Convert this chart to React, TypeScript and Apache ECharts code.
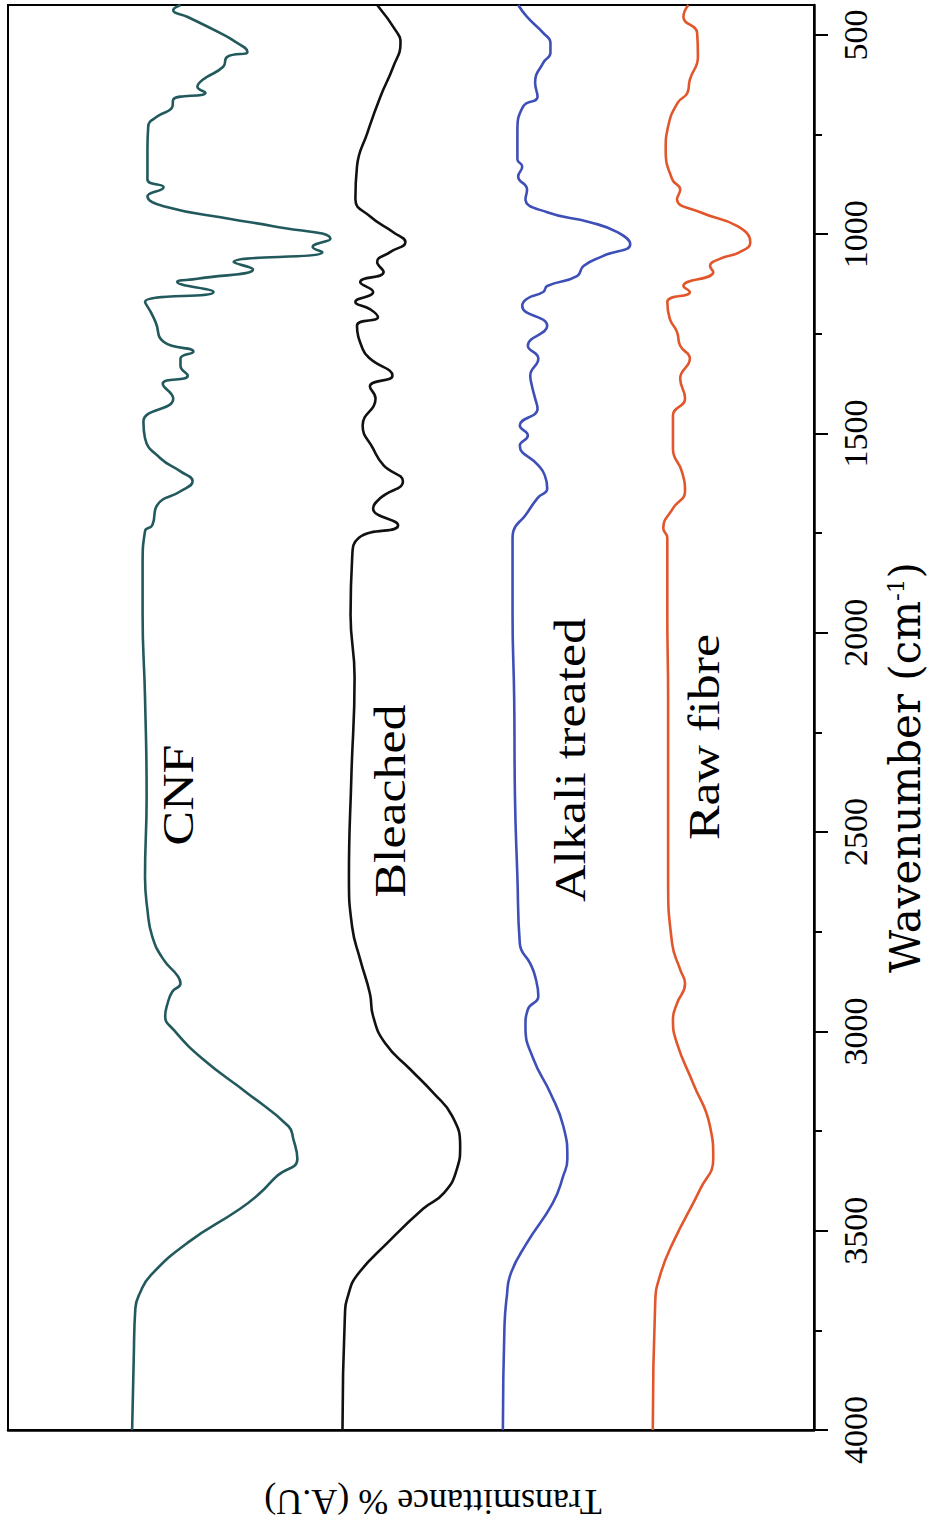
import React, { useEffect, useRef } from "react";
import * as echarts from "echarts";

// Wavenumber (cm-1) and transmittance (A.U, stacked offsets)
const cnfWave = [425, 438, 455, 495, 512, 542, 555, 580, 612, 630, 645, 662, 680, 705, 730, 788, 862, 882, 905, 930, 962, 980, 1012, 1032, 1045, 1070, 1088, 1112, 1120, 1145, 1170, 1195, 1220, 1270, 1295, 1312, 1330, 1355, 1375, 1412, 1470, 1512, 1562, 1595, 1620, 1645, 1680, 1730, 1745, 1830, 1955, 2162, 2412, 2612, 2695, 2762, 2820, 2862, 2880, 2900, 2930, 2962, 2995, 3070, 3155, 3238, 3270, 3320, 3362, 3405, 3445, 3530, 3612, 3655, 3695, 3820, 4000];
const cnfT = [78.6, 79.5, 77.7, 73.7, 72.2, 70.3, 72.8, 73.3, 75.8, 76.5, 75.5, 79.5, 79.6, 81.5, 82.6, 82.7, 82.7, 80.7, 82.7, 80.7, 72.4, 67.1, 60.0, 62.2, 61.0, 72.0, 69.6, 76.5, 79.0, 74.5, 83.0, 82.3, 81.7, 80.7, 77.0, 78.6, 78.6, 77.7, 80.8, 79.5, 83.2, 83.0, 81.1, 78.6, 77.1, 78.6, 81.5, 82.1, 83.0, 83.3, 83.3, 83.0, 82.8, 83.0, 82.7, 82.1, 80.7, 78.9, 78.6, 79.6, 80.2, 80.5, 79.5, 75.8, 70.3, 65.2, 64.6, 64.1, 66.6, 68.7, 71.2, 77.7, 82.3, 83.6, 84.2, 84.4, 84.6];

const bleachedWave = [425, 495, 520, 580, 655, 745, 830, 912, 955, 995, 1020, 1045, 1070, 1095, 1120, 1145, 1170, 1188, 1208, 1230, 1288, 1312, 1355, 1382, 1412, 1480, 1538, 1580, 1620, 1662, 1688, 1730, 1762, 1812, 1955, 2112, 2362, 2612, 2738, 2820, 2905, 2962, 3030, 3095, 3155, 3212, 3288, 3345, 3405, 3445, 3530, 3612, 3662, 3712, 4000];
const bleachedT = [54.2, 51.7, 51.3, 52.2, 53.8, 55.4, 56.7, 56.9, 55.1, 52.2, 50.7, 52.6, 54.2, 53.4, 56.3, 54.7, 56.9, 55.1, 54.1, 56.7, 56.0, 55.1, 52.3, 55.1, 54.4, 56.0, 54.7, 53.4, 51.0, 53.8, 54.7, 51.6, 56.5, 57.3, 57.5, 57.0, 57.4, 57.7, 57.3, 56.3, 55.1, 54.7, 53.2, 50.1, 47.2, 44.9, 43.9, 44.3, 45.9, 48.5, 52.9, 56.7, 57.8, 58.2, 58.5];

const alkaliWave = [425, 455, 495, 520, 545, 570, 620, 655, 680, 745, 812, 830, 855, 888, 912, 945, 970, 995, 1025, 1055, 1080, 1105, 1130, 1145, 1162, 1180, 1230, 1280, 1312, 1355, 1380, 1412, 1438, 1480, 1505, 1530, 1580, 1605, 1638, 1662, 1705, 1745, 1762, 1955, 2162, 2412, 2612, 2780, 2830, 2862, 2912, 2945, 2988, 3070, 3155, 3238, 3320, 3362, 3430, 3530, 3612, 3662, 3738, 4000];
const alkaliT = [36.7, 35.6, 33.6, 32.7, 32.7, 33.6, 34.6, 34.3, 36.1, 36.8, 36.8, 36.2, 36.7, 35.6, 35.8, 33.1, 27.8, 24.4, 22.8, 26.2, 28.6, 29.4, 33.1, 33.6, 35.6, 36.2, 33.1, 35.5, 34.2, 35.2, 35.0, 34.6, 34.3, 36.5, 35.5, 36.5, 34.2, 33.4, 33.1, 34.3, 35.8, 37.3, 37.4, 37.4, 37.2, 37.1, 36.8, 36.5, 35.2, 34.6, 34.2, 35.5, 35.8, 34.8, 32.7, 31.1, 30.6, 31.1, 32.4, 35.6, 37.7, 38.1, 38.4, 38.6];

const rawWave = [425, 455, 495, 555, 612, 645, 670, 730, 788, 862, 888, 912, 945, 980, 1020, 1045, 1062, 1080, 1095, 1130, 1145, 1170, 1212, 1245, 1280, 1312, 1362, 1412, 1455, 1538, 1595, 1645, 1688, 1738, 1762, 1955, 2162, 2412, 2612, 2780, 2845, 2880, 2930, 2970, 3030, 3130, 3238, 3320, 3395, 3530, 3612, 3680, 4000];
const rawT = [15.6, 16.2, 14.5, 14.4, 15.4, 15.7, 16.9, 18.1, 18.4, 17.6, 16.6, 17.0, 14.1, 9.5, 7.9, 9.2, 11.7, 12.9, 12.5, 16.2, 15.4, 18.2, 17.9, 17.0, 16.6, 15.4, 16.6, 16.0, 17.5, 17.5, 16.4, 16.0, 17.5, 18.7, 18.2, 18.2, 18.1, 18.1, 18.1, 17.6, 16.6, 16.0, 17.0, 17.5, 17.0, 15.0, 12.9, 12.5, 14.1, 17.5, 19.1, 19.7, 20.0];

const seriesNames = ["CNF", "Bleached", "Alkali treated", "Raw fibre"];
const seriesColors = ["#22595d", "#111111", "#3e4fb8", "#e2562c"];
const majorTicks = [500, 1000, 1500, 2000, 2500, 3000, 3500, 4000];
const minorTicks = [750, 1250, 1750, 2250, 2750, 3250, 3750];

const SERIF = '"Liberation Serif", "Times New Roman", serif';
const WIDE_SERIF = '"DejaVu Serif", "Liberation Serif", serif';

export default function App() {
  const ref = useRef<HTMLDivElement>(null);
  useEffect(() => {
    if (!ref.current) return;
    const chart = echarts.init(ref.current, null, { renderer: "svg" });
    const waves = [cnfWave, bleachedWave, alkaliWave, rawWave];
    const ts = [cnfT, bleachedT, alkaliT, rawT];
    const labelPos = [
      [178, 795],
      [390, 801],
      [570, 760],
      [704, 737],
    ];
    chart.setOption({
      animation: false,
      backgroundColor: "#ffffff",
      grid: {
        left: 8,
        right: 124,
        top: 5,
        bottom: 94,
        containLabel: false,
        outerBoundsMode: "none",
        show: true,
        borderColor: "#000",
        borderWidth: 2,
        backgroundColor: "transparent",
      },
      xAxis: {
        type: "value",
        min: 0,
        max: 100,
        inverse: true,
        axisLine: { show: true, lineStyle: { color: "#000", width: 2.5 } },
        axisTick: { show: false },
        axisLabel: { show: false },
        splitLine: { show: false },
        name: "Transmittance % (A.U)",
        nameLocation: "middle",
        nameRotate: 180,
        nameGap: 54,
        nameTextStyle: { fontFamily: SERIF, fontSize: 36, color: "#000", padding: [0, 44, 0, 0] },
      },
      yAxis: [
        {
          type: "value",
          position: "right",
          inverse: true,
          min: 425,
          max: 4000,
          axisLine: { show: true, lineStyle: { color: "#000", width: 2.5 } },
          axisTick: { show: true, length: 14, inside: false, customValues: majorTicks, lineStyle: { color: "#000", width: 2 } },
          axisLabel: {
            show: true,
            rotate: 90,
            margin: 24,
            customValues: majorTicks,
            formatter: (v: number) => String(v),
            fontFamily: SERIF,
            fontSize: 34,
            color: "#000",
          },
          splitLine: { show: false },
          name: "Wavenumber (cm{s|-1})",
          nameLocation: "middle",
          nameRotate: 90,
          nameGap: 70,
          nameTextStyle: {
            fontFamily: WIDE_SERIF,
            fontSize: 42,
            color: "#000",
            padding: [0, 100, 0, 0],
            rich: { s: { fontFamily: WIDE_SERIF, fontSize: 23, color: "#000", padding: [0, 0, 20, 0] } },
          },
        },
        {
          type: "value",
          position: "right",
          inverse: true,
          min: 425,
          max: 4000,
          axisLine: { show: false },
          axisTick: { show: true, length: 8, inside: false, customValues: minorTicks, lineStyle: { color: "#000", width: 2 } },
          axisLabel: { show: false },
          splitLine: { show: false },
        },
      ],
      series: seriesNames.map((name, i) => ({
        name,
        type: "line",
        yAxisIndex: 0,
        data: waves[i].map((w, j) => [ts[i][j], w]),
        showSymbol: false,
        symbol: "none",
        smooth: 0.5,
        lineStyle: { color: seriesColors[i], width: 2.6 },
        clip: true,
      })),
      graphic: seriesNames.map((name, i) => ({
        type: "text",
        x: labelPos[i][0],
        y: labelPos[i][1],
        rotation: Math.PI / 2,
        scaleX: 1.18,
        style: {
          text: name,
          fontFamily: SERIF,
          fontSize: 44,
          fill: "#000",
          align: "center",
          verticalAlign: "middle",
        },
      })),
    });
    return () => chart.dispose();
  }, []);
  return (
    <div
      ref={ref}
      style={{ position: "absolute", left: 0, top: 0, width: 938, height: 1524, background: "#fff" }}
    />
  );
}
